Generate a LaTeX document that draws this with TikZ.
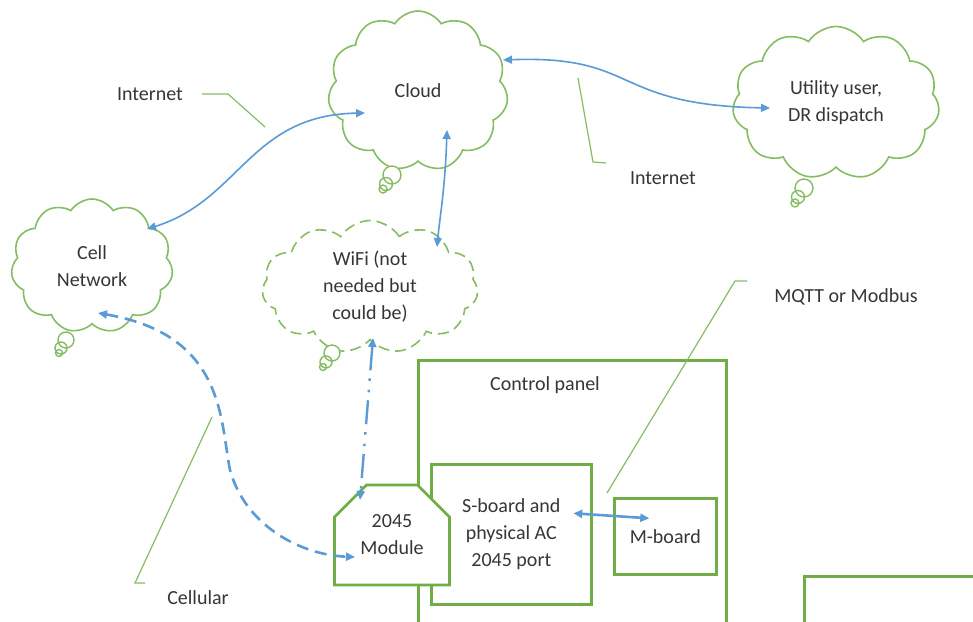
\documentclass[tikz,border=0pt]{standalone}
\usepackage{fontspec}
\setmainfont{Carlito}
\usetikzlibrary{shapes.symbols,shapes.misc,arrows.meta,calc}
\definecolor{grn}{HTML}{70AD47}
\definecolor{cgrn}{HTML}{86BD62}
\definecolor{blu}{HTML}{5B9BD5}
\definecolor{txt}{HTML}{363636}
\begin{document}
\begin{tikzpicture}[x=1pt,y=-1pt,
  every node/.style={font=\fontsize{20}{27}\selectfont, text=txt},
  cloudshape/.style={cloud, cloud puffs=11, cloud puff arc=115, cloud ignores aspect, draw=cgrn, line width=1.6pt, fill=white, align=center, inner sep=0pt},
  bubble/.style={draw=cgrn, line width=1.4pt, fill=white},
  boxst/.style={draw=grn, line width=2.6pt, fill=white, inner sep=0pt},
  callout/.style={draw=cgrn, line width=1.2pt},
  arr/.style={blu, line width=1.6pt, {Triangle[length=9pt,width=8pt]}-{Triangle[length=9pt,width=8pt]}},
]
\clip (0,0) rectangle (973,621);
\fill[white] (0,0) rectangle (973,621);

% clouds
\node[cloudshape, minimum width=180, minimum height=160] (cloud) at (418,91) {Cloud};
\node[cloudshape, minimum width=162, minimum height=134] (cell) at (92,266) {Cell\\Network};
\node[cloudshape, minimum width=207, minimum height=153] (util) at (836,103) {Utility user,\\DR dispatch};
\node[cloudshape, dash pattern=on 11pt off 6pt, minimum width=216, minimum height=133] (wifi) at (370,287) {WiFi (not\\needed but\\could be)};

% thought bubbles
\draw[bubble] (392,175) circle (9) (386,184) circle (6.5) (383,189) circle (4);
\draw[bubble] (804,188) circle (9) (798,197) circle (6.5) (795,203) circle (4);
\draw[bubble] (66,340) circle (8) (61,348) circle (6) (59,353) circle (3.5);
\draw[bubble] (332,353) circle (8) (326,362) circle (6) (323,367) circle (3.5);

% boxes
\node[boxst, minimum width=308, minimum height=300, anchor=north west] (panel) at (417,359) {};
\node (lblpanel) at (545,385) {Control panel};
\node[boxst, minimum width=160, minimum height=140, anchor=north west, align=center] (sboard) at (430,463) {S-board and\\physical AC\\2045 port};
\node[boxst, minimum width=102, minimum height=76, anchor=north west] (mboard) at (613,497) {M-board};
\node[boxst, chamfered rectangle, chamfered rectangle corners={north west,north east}, chamfered rectangle xsep=16pt, chamfered rectangle ysep=16pt, minimum width=115, minimum height=100, align=center] (module) at (392,535) {2045\\Module};
\node[boxst, minimum width=250, minimum height=120, anchor=north west] (box4) at (803,575) {};

% labels
\node (inet1) at (150,94) {Internet};
\node (inet2) at (663,178) {Internet};
\node (mqtt) at (846,297) {MQTT or Modbus};
\node (cellular) at (198,598) {Cellular};

% callout lines
\coordinate (i1a) at (202,94); \coordinate (i1b) at (228,94); \coordinate (i1c) at (265,127);
\draw[callout] (i1a) -- (i1b) -- (i1c);
\coordinate (i2a) at (578,78); \coordinate (i2b) at (593,162); \coordinate (i2c) at (606,163);
\draw[callout] (i2a) -- (i2b) -- (i2c);
\coordinate (m1a) at (747,281); \coordinate (m1b) at (735,281); \coordinate (m1c) at (607,493);
\draw[callout] (m1a) -- (m1b) -- (m1c);
\coordinate (c1a) at (212,417); \coordinate (c1b) at (135,583); \coordinate (c1c) at (145,583);
\draw[callout] (c1a) -- (c1b) -- (c1c);

% connector end points
\coordinate (cloudL) at ($(cloud.center)+(-53,22)$);
\coordinate (cloudB) at ($(cloud.center)+(29,39)$);
\coordinate (cloudR) at ($(cloud.center)+(85,-31)$);
\coordinate (cellT) at ($(cell.center)+(55,-37)$);
\coordinate (cellB) at ($(cell.center)+(6,47)$);
\coordinate (utilL) at ($(util.center)+(-66,5)$);
\coordinate (wifiT) at ($(wifi.center)+(67,-40)$);
\coordinate (wifiB) at ($(wifi.center)+(3,51)$);
\coordinate (modL) at ($(module.center)+(-37,22)$);
\coordinate (modT) at ($(module.center)+(-32,-35)$);
\coordinate (sbR) at ($(sboard.center)+(62,-21)$);
\coordinate (mbL) at ($(mboard.center)+(-16,-18)$);
\coordinate (dmid) at (230,470);

% connectors
\draw[arr] (cellT) .. controls +(93,-29) and +(-115,2) .. (cloudL);
\draw[arr] (cloudB) .. controls +(-2,60) and +(3,-32) .. (wifiT);
\draw[arr] (cloudR) .. controls +(137,-5) and +(-160,-3) .. (utilL);
\draw[arr, line width=2.6pt, dash pattern=on 12pt off 7pt] (cellB) .. controls +(127,22) and +(-10,-50) .. (dmid) .. controls +(15,55) and +(-55,-2) .. (modL);
\draw[arr, line width=2.4pt, dash pattern=on 24pt off 8pt on 2.5pt off 9pt on 2.5pt off 8pt] (wifiB) -- (modT);
\draw[arr, line width=2.6pt] (sbR) -- (mbL);
\end{tikzpicture}
\end{document}
